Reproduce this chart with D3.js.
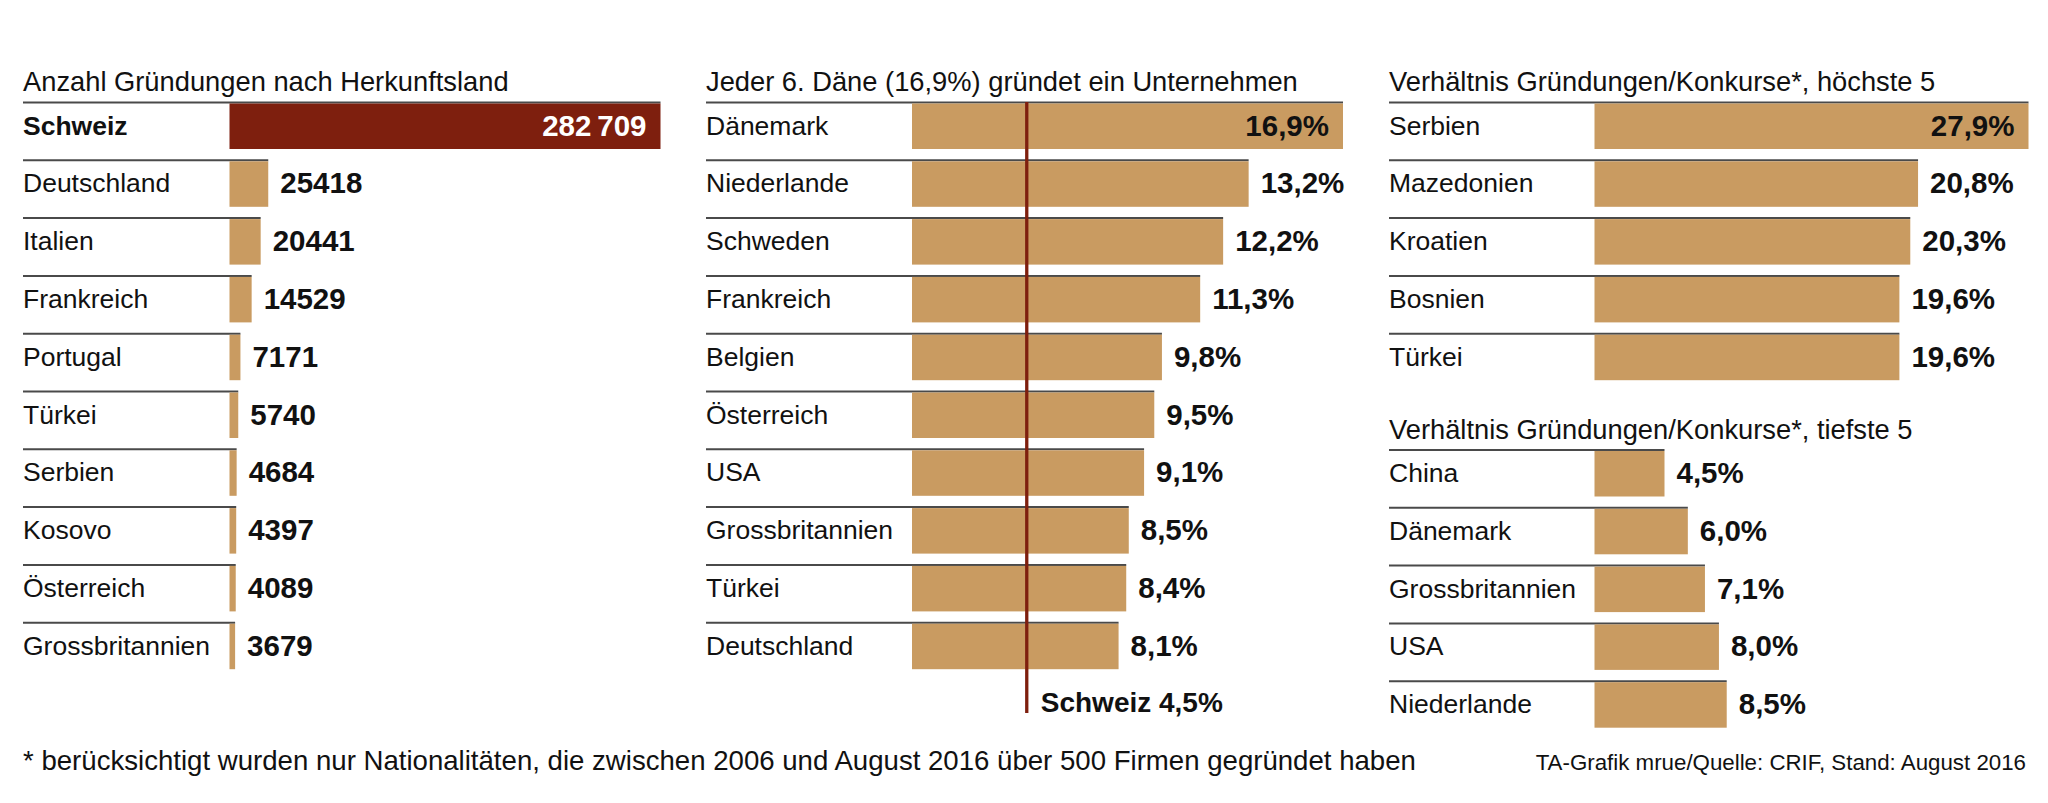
<!DOCTYPE html>
<html><head><meta charset="utf-8">
<script src="https://cdn.jsdelivr.net/npm/d3@7"></script>
<style>
html,body{margin:0;padding:0;background:#fff;}
svg{display:block;}
text{font-family:"Liberation Sans",Arial,sans-serif;fill:#111;}
</style></head>
<body>
<svg id="chart" width="2048" height="803"></svg>
<script>
// ---------- data ----------
const countTitle = "Anzahl Gründungen nach Herkunftsland";
const countCountries = ["Schweiz","Deutschland","Italien","Frankreich","Portugal","Türkei","Serbien","Kosovo","Österreich","Grossbritannien"];
const countValues = [282709,25418,20441,14529,7171,5740,4684,4397,4089,3679];

const shareTitle = "Jeder 6. Däne (16,9%) gründet ein Unternehmen";
const shareCountries = ["Dänemark","Niederlande","Schweden","Frankreich","Belgien","Österreich","USA","Grossbritannien","Türkei","Deutschland"];
const shareValues = [16.9,13.2,12.2,11.3,9.8,9.5,9.1,8.5,8.4,8.1];
const swissLabel = "Schweiz";
const swissShare = 4.5;

const topTitle = "Verhältnis Gründungen/Konkurse*, höchste 5";
const topCountries = ["Serbien","Mazedonien","Kroatien","Bosnien","Türkei"];
const topValues = [27.9,20.8,20.3,19.6,19.6];

const lowTitle = "Verhältnis Gründungen/Konkurse*, tiefste 5";
const lowCountries = ["China","Dänemark","Grossbritannien","USA","Niederlande"];
const lowValues = [4.5,6.0,7.1,8.0,8.5];

const footnote = "* berücksichtigt wurden nur Nationalitäten, die zwischen 2006 und August 2016 über 500 Firmen gegründet haben";
const sourceText = "TA-Grafik mrue/Quelle: CRIF, Stand: August 2016";

// ---------- style ----------
const TAN = "#c99b61", DARKRED = "#7e1f0e", RULE = "#4a4a4a";
const STEP = 57.8, BAR_H = 45.5;
const LABEL_SIZE = 26.5, VALUE_SIZE = 29.5, TITLE_SIZE = 27.3;

const loc = d3.formatLocale({decimal:",", thousands:"\u2009", grouping:[3], currency:["",""]});
const fmtCount = v => v >= 100000 ? loc.format(",")(v) : loc.format("d")(v);
const fmtPct = v => loc.format(".1f")(v) + "%";

const svg = d3.select("#chart");

function panel({title, names, values, labelX, barX, barW, top, fmt, maxValue, firstStyle, boldFirstName}) {
  const g = svg.append("g");
  const n = names.length;
  const pi = 1 - BAR_H / STEP;
  const y = d3.scaleBand().domain(names).range([top, top + STEP * (n - pi)]).paddingInner(pi).paddingOuter(0);
  const x = d3.scaleLinear().domain([0, maxValue]).range([barX, barX + barW]);
  const rows = names.map((name, i) => ({name, value: values[i], i}));

  g.append("text").attr("x", labelX).attr("y", top - 11.5)
    .attr("font-size", TITLE_SIZE).text(title);

  g.selectAll("line.rule").data(rows).join("line").attr("class","rule")
    .attr("x1", labelX).attr("x2", d => x(d.value))
    .attr("y1", d => y(d.name)).attr("y2", d => y(d.name))
    .attr("stroke", RULE).attr("stroke-width", 2);

  g.selectAll("rect.bar").data(rows).join("rect").attr("class","bar")
    .attr("x", x(0)).attr("y", d => y(d.name) + 1)
    .attr("width", d => x(d.value) - x(0)).attr("height", y.bandwidth())
    .attr("fill", d => d.i === 0 && firstStyle === "red" ? DARKRED : TAN);

  g.selectAll("text.name").data(rows).join("text").attr("class","name")
    .attr("x", labelX).attr("y", d => y(d.name) + 32)
    .attr("font-size", LABEL_SIZE)
    .attr("font-weight", d => d.i === 0 && boldFirstName ? "bold" : "normal")
    .text(d => d.name);

  const isMax = d => d.value === maxValue && d.i === 0;
  g.selectAll("text.val").data(rows).join("text").attr("class","val")
    .attr("x", d => isMax(d) ? x(d.value) - 14 : x(d.value) + 12)
    .attr("y", d => y(d.name) + 33)
    .attr("text-anchor", d => isMax(d) ? "end" : "start")
    .attr("font-size", VALUE_SIZE).attr("font-weight","bold")
    .style("fill", d => isMax(d) && firstStyle === "red" ? "#fff" : "#111")
    .text(d => fmt(d.value));
  return {x, y, g};
}

panel({title: countTitle, names: countCountries, values: countValues, labelX: 23, barX: 229.5, barW: 431,
       top: 102.5, fmt: fmtCount, maxValue: d3.max(countValues), firstStyle: "red", boldFirstName: true});

const mid = panel({title: shareTitle, names: shareCountries, values: shareValues, labelX: 706, barX: 912, barW: 431,
       top: 102.5, fmt: fmtPct, maxValue: d3.max(shareValues), firstStyle: "tan", boldFirstName: false});

// Swiss reference line
mid.g.append("line")
  .attr("x1", mid.x(swissShare)).attr("x2", mid.x(swissShare))
  .attr("y1", 102).attr("y2", 713)
  .attr("stroke", DARKRED).attr("stroke-width", 3.3);
mid.g.append("text").attr("x", mid.x(swissShare) + 14).attr("y", 712)
  .attr("font-size", 28).attr("font-weight","bold")
  .text(swissLabel + " " + fmtPct(swissShare));

const topMax = d3.max(topValues);
panel({title: topTitle, names: topCountries, values: topValues, labelX: 1389, barX: 1594.5, barW: 434,
       top: 102.5, fmt: fmtPct, maxValue: topMax, firstStyle: "tan", boldFirstName: false});
panel({title: lowTitle, names: lowCountries, values: lowValues, labelX: 1389, barX: 1594.5, barW: 434 * d3.max(lowValues) / topMax,
       top: 450, fmt: fmtPct, maxValue: d3.max(lowValues), firstStyle: "none", boldFirstName: false});

svg.append("text").attr("x", 23).attr("y", 770).attr("font-size", 27.6).text(footnote);
svg.append("text").attr("x", 2026).attr("y", 770).attr("text-anchor","end").attr("font-size", 22.3).text(sourceText);
</script>
</body></html>
